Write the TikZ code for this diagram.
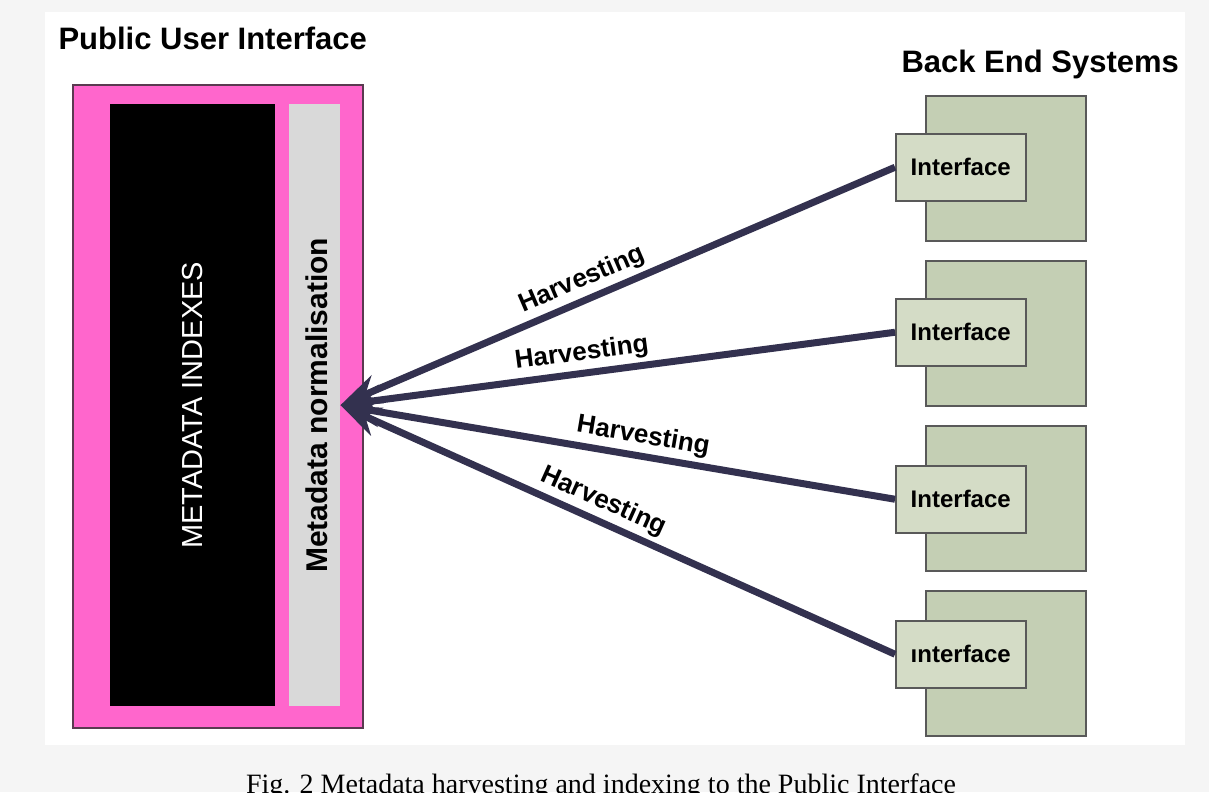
\documentclass[tikz,border=0pt]{standalone}
\usepackage{fontspec}
\setmainfont{Liberation Serif}
\setsansfont{Liberation Sans}
\usetikzlibrary{arrows.meta}
\usepackage{xcolor}
\definecolor{pagegray}{HTML}{F5F5F5}
\definecolor{uipink}{HTML}{FF66CC}
\definecolor{uiedge}{HTML}{5A3A50}
\definecolor{normgray}{HTML}{D9D9D9}
\definecolor{sysgreen}{HTML}{C4CFB4}
\definecolor{ifgreen}{HTML}{D4DCC6}
\definecolor{harvblue}{HTML}{33314F}

\begin{document}
\begin{tikzpicture}[x=1pt,y=-1pt]
 \tikzstyle{box}=[rectangle, inner sep=0pt, anchor=north west]
 \tikzstyle{sysbox}=[box, draw=black!65, line width=1.5pt, fill=sysgreen,
                     minimum width=160pt, minimum height=145pt]
 \tikzstyle{ifbox}=[box, draw=black!65, line width=1.5pt, fill=ifgreen,
                    minimum width=130pt, minimum height=67pt,
                    font=\sffamily\bfseries\fontsize{24}{28}\selectfont]
 \tikzstyle{harvest}=[-{Stealth[length=40pt,width=30pt]}, harvblue, line width=7pt]
 \tikzstyle{harvlabel}=[sloped, above, text=black, inner sep=4pt,
                        font=\sffamily\bfseries\fontsize{26}{30}\selectfont]

        \useasboundingbox (0,0) rectangle (1209,792);
        \fill[pagegray] (0,0) rectangle (1209,792);
        \fill[white] (45,12) rectangle (1185,745);

        \node[anchor=base west, font=\sffamily\bfseries\fontsize{31}{36}\selectfont]
            (puititle) at (55,50) {Public User Interface};
        \node[anchor=base west, font=\sffamily\bfseries\fontsize{31}{36}\selectfont]
            (bestitle) at (898,72) {Back End Systems};

        % public user interface
        \node[box, fill=uipink, draw=uiedge, line width=1.5pt,
              minimum width=290pt, minimum height=643pt] (pui) at (72,84) {};
        \node[box, fill=black, minimum width=165pt, minimum height=602pt] (idx) at (110,104) {};
        \node[box, fill=normgray, minimum width=51pt, minimum height=602pt] (norm) at (289,104) {};
        \node[rotate=90, text=white, font=\sffamily\fontsize{29}{34}\selectfont]
            (idxtext) at (idx.center) {METADATA INDEXES};
        \node[rotate=90, font=\sffamily\bfseries\fontsize{30}{34}\selectfont]
            (normtext) at ([xshift=2pt]norm.center) {Metadata normalisation};

        % back end systems
        \node[sysbox] (S1) at (925,95){};
        \node[sysbox] (S2) at (925,260){};
        \node[sysbox] (S3) at (925,425){};
        \node[sysbox] (S4) at (925,590){};
        \node[ifbox] (I1) at (895,133){Interface};
        \node[ifbox] (I2) at (895,298){Interface};
        \node[ifbox] (I3) at (895,465){Interface};
        \node[ifbox] (I4) at (895,620){ınterface};

        \draw[harvest] (I1.west) -- node[harvlabel, pos=0.55]{Harvesting} (norm.east);
        \draw[harvest] (I2.west) -- node[harvlabel, pos=0.56]{Harvesting} (norm.east);
        \draw[harvest] (I3.west) -- node[harvlabel, pos=0.46]{Harvesting} (norm.east);
        \draw[harvest] (I4.west) -- node[harvlabel, pos=0.54]{Harvesting} (norm.east);

        \node[anchor=base, font=\fontsize{28}{32}\selectfont]
            (caption) at (601,793) {Fig. 2 Metadata harvesting and indexing to the Public Interface};

\end{tikzpicture}
\end{document}
